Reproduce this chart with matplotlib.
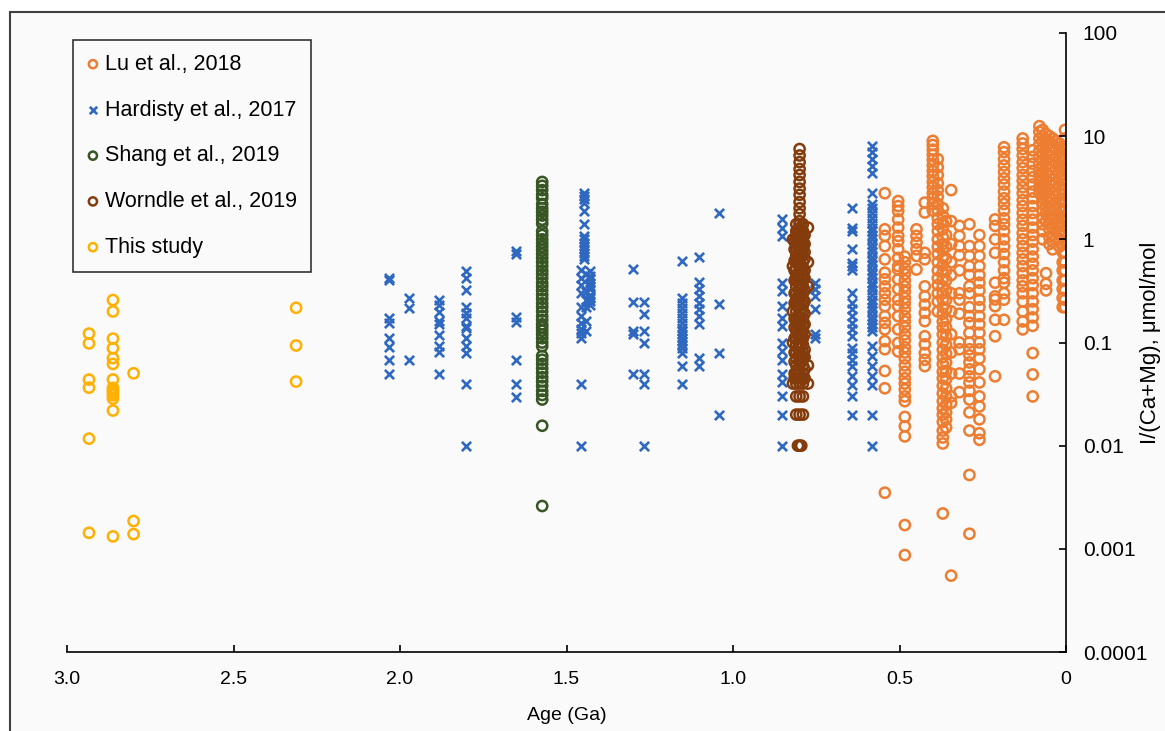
import matplotlib
matplotlib.use('Agg')
import matplotlib.pyplot as plt
from matplotlib.patches import Rectangle
from matplotlib.ticker import FixedLocator, FixedFormatter

plt.rcParams['font.family'] = ['Liberation Sans', 'DejaVu Sans']

# Daten: Alter (Ga) je Säule und die I/(Ca+Mg)-Werte (µmol/mol) in dieser Säule
lu_age = [0.544, 0.504, 0.484, 0.449, 0.424, 0.400, 0.385, 0.370, 0.360, 0.345,
          0.320, 0.290, 0.260, 0.213, 0.186, 0.130, 0.100, 0.080, 0.070, 0.060,
          0.050, 0.040, 0.030, 0.020, 0.010, 0.003]
lu_val = [
    [2.8, 1.25, 1.08, 0.86, 0.64, 0.475, 0.41, 0.35, 0.30, 0.26, 0.225, 0.18, 0.155, 0.134, 0.103, 0.086, 0.053, 0.036, 0.0035],
    [2.35, 2.1, 1.88, 1.56, 1.30, 1.08, 0.96, 0.80, 0.66, 0.55, 0.51, 0.41, 0.33, 0.26, 0.225, 0.18, 0.134, 0.099, 0.082],
    [0.68, 0.6, 0.52, 0.46, 0.40, 0.35, 0.31, 0.27, 0.24, 0.21, 0.18, 0.16, 0.14, 0.12, 0.105, 0.09, 0.08, 0.07, 0.06, 0.052,
     0.045, 0.04, 0.035, 0.03, 0.027, 0.019, 0.0154, 0.0123, 0.0017, 0.00087],
    [1.25, 1.08, 0.93, 0.80, 0.69, 0.51],
    [2.27, 1.82, 0.74, 0.64, 0.35, 0.28, 0.233, 0.194, 0.161, 0.115, 0.096, 0.079, 0.068, 0.059],
    [9.0, 8.2, 7.4, 6.6, 5.9, 5.2, 4.6, 4.1, 3.6, 3.2, 2.8, 2.5, 2.2, 1.9],
    [6.0, 5.0, 4.2, 3.5, 3.0, 2.6, 2.2, 1.9, 1.6, 1.4, 1.2, 1.0, 0.85, 0.72, 0.6, 0.5, 0.42, 0.36, 0.3, 0.25, 0.2],
    [2.0, 1.7, 1.45, 1.25, 1.05, 0.9, 0.78, 0.66, 0.56, 0.48, 0.41, 0.35, 0.3, 0.26, 0.22, 0.19, 0.16, 0.14, 0.12, 0.1,
     0.085, 0.072, 0.062, 0.052, 0.045, 0.038, 0.032, 0.027, 0.023, 0.02, 0.017, 0.014, 0.012, 0.0105, 0.0022],
    [1.5, 1.1, 0.85, 0.65, 0.5, 0.4, 0.32, 0.26, 0.21, 0.17, 0.14, 0.115, 0.095, 0.078, 0.064, 0.053, 0.044, 0.036, 0.03,
     0.025, 0.021, 0.018, 0.015],
    [3.0, 1.5, 0.9, 0.6, 0.45, 0.3, 0.2, 0.12, 0.08, 0.05, 0.03, 0.026, 0.00055],
    [1.35, 1.08, 0.86, 0.7, 0.5, 0.3, 0.26, 0.19, 0.1, 0.086, 0.05, 0.033],
    [1.4, 0.86, 0.69, 0.55, 0.45, 0.35, 0.3, 0.22, 0.18, 0.155, 0.124, 0.1, 0.086, 0.075, 0.064, 0.055, 0.047, 0.041,
     0.034, 0.028, 0.021, 0.014, 0.0052, 0.0014],
    [1.1, 0.86, 0.69, 0.55, 0.45, 0.38, 0.32, 0.26, 0.22, 0.18, 0.15, 0.124, 0.1, 0.086, 0.07, 0.055, 0.041, 0.03, 0.024,
     0.018, 0.0132, 0.0114],
    [1.56, 1.35, 1.0, 0.74, 0.38, 0.28, 0.261, 0.225, 0.166, 0.115, 0.047],
    [7.8, 7.0, 6.0, 5.2, 4.5, 3.9, 3.4, 2.9, 2.5, 2.2, 1.9, 1.6, 1.4, 1.2, 1.0, 0.85, 0.72, 0.6, 0.5, 0.42, 0.38, 0.3,
     0.26, 0.166],
    [9.5, 8.5, 7.5, 6.5, 5.6, 4.9, 4.2, 3.7, 3.2, 2.8, 2.4, 2.1, 1.8, 1.55, 1.35, 1.15, 1.0, 0.86, 0.74, 0.64, 0.55,
     0.47, 0.4, 0.35, 0.3, 0.25, 0.2, 0.16, 0.134],
    [7.3, 6.3, 5.4, 4.6, 4.0, 3.4, 2.9, 2.5, 2.1, 1.8, 1.55, 1.3, 1.1, 0.95, 0.8, 0.68, 0.58, 0.5, 0.42, 0.36, 0.3,
     0.25, 0.21, 0.175, 0.145, 0.079, 0.049, 0.03],
    [12.5, 11.0, 9.5, 8.3, 7.2, 6.3, 5.5, 4.8, 4.2, 3.7, 3.2, 2.8],
    [11.5, 10.0, 8.8, 7.7, 6.7, 5.8, 5.0, 4.4, 3.8, 3.3, 2.9, 2.5, 2.2, 1.9, 1.6, 1.4, 1.2, 1.0],
    [10.5, 9.0, 7.8, 6.8, 5.9, 5.1, 4.4, 3.8, 3.3, 2.9, 2.5, 2.1, 1.8, 1.5, 0.47, 0.37, 0.32],
    [10.0, 8.5, 7.3, 6.3, 5.4, 4.7, 4.1, 3.5, 3.0, 2.6, 2.3, 2.0, 1.7, 1.45, 1.25, 1.05, 0.9],
    [9.5, 8.0, 6.9, 5.9, 5.1, 4.4, 3.8, 3.3, 2.8, 2.4, 2.1, 1.8, 1.55, 1.3, 1.1, 0.95, 0.8],
    [9.0, 7.6, 6.5, 5.6, 4.8, 4.1, 3.5, 3.0, 2.6, 2.2, 1.9, 1.6, 1.4, 1.2],
    [8.5, 7.2, 6.1, 5.2, 4.5, 3.9, 3.3, 2.8, 2.4, 2.0, 1.7, 1.45, 1.2, 1.0, 0.85],
    [8.0, 6.8, 5.8, 5.0, 4.3, 3.7, 3.1, 2.7, 2.3, 1.9, 1.6, 1.35, 1.1, 0.9, 0.75, 0.6, 0.5, 0.4, 0.33, 0.27, 0.22],
    [11.5, 9.5, 7.5, 6.0, 4.8, 3.8, 3.0, 2.4, 1.9, 1.5, 1.2, 0.95, 0.75, 0.6, 0.5, 0.4, 0.32, 0.26, 0.22],
]

har_age = [2.032, 1.972, 1.882, 1.802, 1.652, 1.448, 1.430, 1.455, 1.440, 1.301, 1.266, 1.153, 1.103,
           1.043, 0.854, 0.754, 0.643, 0.583]
har_val = [
    [0.418, 0.403, 0.171, 0.153, 0.110, 0.090, 0.068, 0.050],
    [0.267, 0.217, 0.068],
    [0.261, 0.229, 0.197, 0.161, 0.150, 0.118, 0.092, 0.0805, 0.050],
    [0.492, 0.425, 0.322, 0.220, 0.194, 0.171, 0.146, 0.139, 0.111, 0.092, 0.0794, 0.0397, 0.01],
    [0.769, 0.715, 0.178, 0.157, 0.068, 0.0397, 0.0294],
    [2.84, 2.63, 2.44, 2.27, 1.88, 1.40, 1.08, 1.0, 0.93, 0.86, 0.80, 0.74, 0.69, 0.64],
    [0.49, 0.44, 0.41, 0.38, 0.35, 0.33, 0.29, 0.27, 0.25, 0.23],
    [0.5, 0.42, 0.36, 0.3, 0.22, 0.18, 0.155, 0.134, 0.124, 0.111, 0.04, 0.01],
    [0.46, 0.31, 0.26, 0.22, 0.16, 0.13],
    [0.52, 0.246, 0.129, 0.122, 0.0497],
    [0.246, 0.187, 0.129, 0.099, 0.0497, 0.0397, 0.01],
    [0.615, 0.272, 0.243, 0.217, 0.194, 0.174, 0.155, 0.139, 0.129, 0.120, 0.111, 0.103, 0.096, 0.089, 0.079, 0.059, 0.0397],
    [0.673, 0.385, 0.327, 0.282, 0.243, 0.209, 0.18, 0.15, 0.071, 0.059],
    [1.79, 0.238, 0.079, 0.02],
    [1.56, 1.30, 1.08, 0.38, 0.315, 0.225, 0.174, 0.144, 0.099, 0.082, 0.068, 0.049, 0.041, 0.030, 0.020, 0.01],
    [0.38, 0.327, 0.282, 0.209, 0.12, 0.111],
    [2.03, 1.30, 1.20, 0.80, 0.594, 0.55, 0.51, 0.304, 0.243, 0.209, 0.18, 0.155, 0.134, 0.115, 0.089, 0.079, 0.068,
     0.059, 0.047, 0.039, 0.030, 0.020],
    [8.05, 6.95, 5.98, 5.15, 4.44, 2.84, 2.2, 2.0, 1.8, 1.6, 1.45, 1.3, 1.2, 1.1, 1.0, 0.9, 0.82, 0.75, 0.68, 0.62,
     0.56, 0.5, 0.46, 0.42, 0.38, 0.35, 0.32, 0.29, 0.26, 0.24, 0.22, 0.2, 0.18, 0.165, 0.15, 0.14, 0.13, 0.092,
     0.074, 0.059, 0.047, 0.039, 0.020, 0.01],
]

sha_age = [1.573]
sha_val = [[3.6, 3.3, 3.0, 2.7, 2.5, 2.2, 2.0, 1.85, 1.7, 1.55, 1.42, 1.2, 1.1, 1.0, 0.92, 0.85, 0.78, 0.72, 0.66,
            0.6, 0.55, 0.5, 0.46, 0.42, 0.38, 0.35, 0.32, 0.29, 0.265, 0.24, 0.22, 0.2, 0.18, 0.165, 0.15, 0.14,
            0.13, 0.12, 0.11, 0.1, 0.092, 0.074, 0.068, 0.062, 0.056, 0.051, 0.046, 0.042, 0.038, 0.034, 0.031,
            0.028, 0.0156, 0.0026]]

wor_age = [0.800, 0.790, 0.800, 0.810, 0.775, 0.820, 0.795, 0.805, 0.785, 0.815]
wor_val = [
    [7.5, 6.5, 5.6, 4.8, 4.2, 3.6, 3.1, 2.7, 2.3, 2.0, 1.75, 1.5],
    [1.4, 1.2, 1.05, 0.9, 0.8, 0.7, 0.6, 0.52, 0.45, 0.4, 0.35, 0.3, 0.26, 0.23, 0.2, 0.17, 0.15, 0.13, 0.11, 0.095,
     0.08, 0.07, 0.06, 0.05, 0.04, 0.03, 0.02],
    [1.4, 1.2, 1.05, 0.9, 0.8, 0.7, 0.6, 0.52, 0.45, 0.4, 0.35, 0.3, 0.26, 0.23, 0.2, 0.17, 0.15, 0.13, 0.11, 0.095,
     0.08, 0.07, 0.06, 0.05, 0.04, 0.03, 0.02, 0.01],
    [1.4, 1.2, 1.05, 0.9, 0.8, 0.7, 0.6, 0.52, 0.45, 0.4, 0.35, 0.3, 0.26, 0.23, 0.2, 0.17, 0.15, 0.13, 0.11, 0.095,
     0.08, 0.07, 0.06, 0.05, 0.04, 0.03, 0.02],
    [1.3, 0.6, 0.35, 0.06, 0.04],
    [1.0, 0.55, 0.2, 0.1, 0.04],
    [1.3, 1.1, 0.95, 0.75, 0.55, 0.48, 0.33, 0.28, 0.21, 0.16, 0.12, 0.1, 0.075, 0.065, 0.045, 0.01],
    [1.25, 1.0, 0.85, 0.65, 0.58, 0.42, 0.28, 0.24, 0.18, 0.14, 0.12, 0.088, 0.055, 0.045, 0.01],
    [1.1, 0.9, 0.75, 0.65, 0.5, 0.42, 0.32, 0.25, 0.19, 0.15, 0.12, 0.085, 0.072, 0.055, 0.045],
    [0.95, 0.8, 0.62, 0.5, 0.4, 0.3, 0.24, 0.17, 0.14, 0.11, 0.08, 0.065, 0.05, 0.045],
]

this_age = [2.934, 2.862, 2.800, 2.312]
this_val = [
    [0.122, 0.098, 0.0437, 0.0365, 0.0117, 0.00143],
    [0.258, 0.200, 0.109, 0.088, 0.0705, 0.062, 0.0438, 0.0363, 0.0342, 0.0325, 0.0308, 0.0286, 0.0219, 0.00132],
    [0.0503, 0.00186, 0.00139],
    [0.217, 0.0935, 0.0418],
]

x_ticks = [3.0, 2.5, 2.0, 1.5, 1.0, 0.5, 0.0]
x_ticklabels = ['3.0', '2.5', '2.0', '1.5', '1.0', '0.5', '0']
y_ticks = [0.0001, 0.001, 0.01, 0.1, 1, 10, 100]
y_ticklabels = ['0.0001', '0.001', '0.01', '0.1', '1', '10', '100']


def flatten(ages, vals):
    xs, ys = [], []
    for a, col in zip(ages, vals):
        xs += [a] * len(col)
        ys += col
    return xs, ys


fig = plt.figure(figsize=(11.65, 7.31), dpi=100, facecolor='white')
fig.add_artist(Rectangle((10 / 1165, -0.05), 1.2, 1 - 12 / 731 + 0.05, transform=fig.transFigure,
                         facecolor='#fafafa', edgecolor='#404040', linewidth=1.5, zorder=0))

ax = fig.add_axes([67 / 1165, 79 / 731, 999 / 1165, 619 / 731])
ax.set_facecolor('none')

serien = [
    ('Lu et al., 2018', lu_age, lu_val, '#ED7D31', 'o'),
    ('Hardisty et al., 2017', har_age, har_val, '#2F68C0', 'x'),
    ('Shang et al., 2019', sha_age, sha_val, '#375623', 'o'),
    ('Worndle et al., 2019', wor_age, wor_val, '#843C0C', 'o'),
    ('This study', this_age, this_val, '#FFB000', 'o'),
]
for name, ages, vals, col, m in serien:
    xs, ys = flatten(ages, vals)
    if m == 'o':
        ax.scatter(xs, ys, s=54, marker='o', facecolors='none', edgecolors=col, linewidths=1.8, label=name)
    else:
        ax.scatter(xs, ys, s=44, marker='x', color=col, linewidths=1.9, label=name)

ax.set_yscale('log')
ax.set_xlim(3.0, 0.0)
ax.set_ylim(0.0001, 100)

ax.xaxis.set_major_locator(FixedLocator(x_ticks))
ax.xaxis.set_major_formatter(FixedFormatter(x_ticklabels))
ax.yaxis.set_major_locator(FixedLocator(y_ticks))
ax.yaxis.set_major_formatter(FixedFormatter(y_ticklabels))
ax.yaxis.set_minor_locator(FixedLocator([]))
ax.yaxis.tick_right()
ax.yaxis.set_label_position('right')

for s in ['top', 'left']:
    ax.spines[s].set_visible(False)
for s in ['bottom', 'right']:
    ax.spines[s].set_linewidth(1.2)
    ax.spines[s].set_color('black')

ax.tick_params(axis='x', direction='in', length=5, width=1.2, pad=14, labelsize=14)
ax.tick_params(axis='y', direction='in', length=5, width=1.2, pad=12, labelsize=15)

ax.set_xlabel('Age (Ga)', fontsize=14, labelpad=13)
ax.set_ylabel('I/(Ca+Mg), μmol/mol', fontsize=16)
ax.yaxis.set_label_coords(1.074, 0.5)

leg = ax.legend(loc='upper left', bbox_to_anchor=(0.006, 0.989), borderaxespad=0, fontsize=15.5,
                frameon=True, fancybox=False, framealpha=1, facecolor='#fafafa', edgecolor='#333333',
                labelspacing=1.15, handlelength=0.55, handletextpad=0.3, borderpad=0.65, markerscale=0.8)
leg.get_frame().set_linewidth(1.2)

fig.savefig('out.png', dpi=100, facecolor=fig.get_facecolor())
